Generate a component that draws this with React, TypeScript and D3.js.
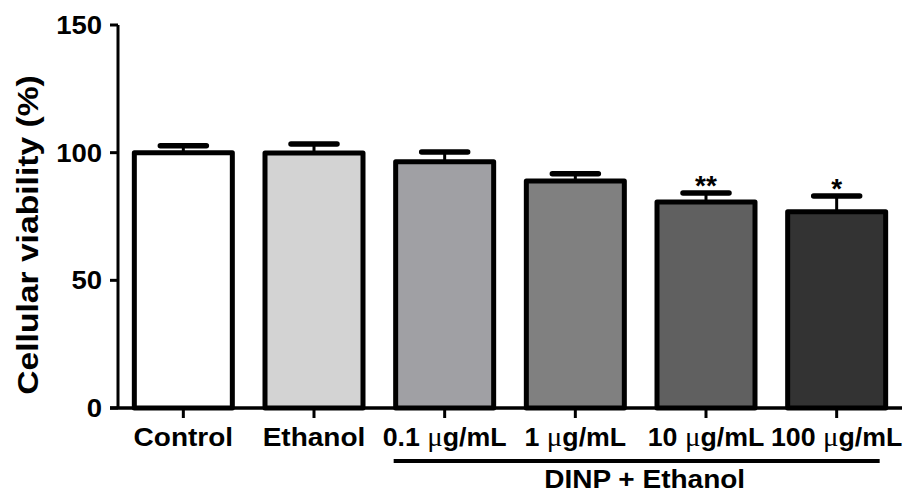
import React from "react";
import * as d3 from "d3";

// DATA
const groups = ["Control", "Ethanol", "0.1", "1", "10", "100"];
const doseLabels = ["Control", "Ethanol", "0.1 ", "1 ", "10 ", "100 "];
const hasUnit = [false, false, true, true, true, true];
const viability = [100, 99.9, 96.4, 88.9, 80.7, 76.9];
const sem = [2.7, 3.5, 3.9, 2.8, 3.5, 6.1];
const stars = ["", "", "", "", "**", "*"];
const fills = ["#ffffff", "#d3d3d3", "#a0a0a4", "#808080", "#606060", "#333333"];
const yTicks = [0, 50, 100, 150];

const W = 917;
const H = 496;
const FONT = "'Liberation Sans', Arial, sans-serif";

export default function App() {
  // SCALES
  const x = d3
    .scaleBand<string>()
    .domain(groups)
    .range([118, 902])
    .paddingInner(0.25)
    .paddingOuter(0.125);
  const y = d3.scaleLinear().domain([0, 150]).range([408, 25]);
  const bw = x.bandwidth();
  const capW = 52;

  const lineStart = (x(groups[2]) as number) - 2;
  const lineEnd = (x(groups[5]) as number) + bw - 6;

  return (
    <div style={{ margin: -8 }}>
      <svg width={W} height={H} style={{ display: "block", background: "#fff" }}>
        {/* BARS */}
        {groups.map((g, i) => {
          const x0 = x(g) as number;
          const cx = x0 + bw / 2;
          const top = y(viability[i] + sem[i]);
          return (
            <g key={g}>
              <line x1={cx} x2={cx} y1={y(viability[i])} y2={top} stroke="#000" strokeWidth={3} />
              <line
                x1={cx - capW / 2 + 3}
                x2={cx + capW / 2 - 3}
                y1={top}
                y2={top}
                stroke="#000"
                strokeWidth={5.5}
                strokeLinecap="round"
              />
              <rect
                x={x0}
                y={y(viability[i])}
                width={bw}
                height={y(0) - y(viability[i])}
                fill={fills[i]}
                stroke="#000"
                strokeWidth={5}
                strokeLinejoin="round"
              />
              {stars[i] && (
                <text
                  x={cx}
                  y={top + 2}
                  textAnchor="middle"
                  fontFamily={FONT}
                  fontWeight="bold"
                  fontSize={28}
                  fill="#000"
                >
                  {stars[i]}
                </text>
              )}
            </g>
          );
        })}

        {/* Y AXIS */}
        <line x1={118} x2={118} y1={y(150)} y2={y(0)} stroke="#000" strokeWidth={3} />
        {yTicks.map((t) => (
          <g key={t}>
            <line x1={110} x2={118} y1={y(t)} y2={y(t)} stroke="#000" strokeWidth={3} />
            <g transform={`translate(102,${y(t)}) scale(1.1,1)`}>
              <text dy="0.36em" textAnchor="end" fontFamily={FONT} fontWeight="bold" fontSize={25} fill="#000">
                {t}
              </text>
            </g>
          </g>
        ))}

        {/* X AXIS */}
        <line x1={110} x2={902} y1={y(0)} y2={y(0)} stroke="#000" strokeWidth={3.5} />
        {groups.map((g, i) => {
          const cx = (x(g) as number) + bw / 2;
          return (
            <g key={g}>
              <line x1={cx} x2={cx} y1={y(0)} y2={y(0) + 10} stroke="#000" strokeWidth={3} />
              <g transform={`translate(${cx},446) scale(${hasUnit[i] ? 1.07 : 1.12},1)`}>
                <text textAnchor="middle" fontFamily={FONT} fontWeight="bold" fontSize={25} fill="#000">
                  {doseLabels[i]}
                  {hasUnit[i] && (
                    <>
                      <tspan fontFamily="'Liberation Serif', 'DejaVu Serif', serif" fontWeight="normal" fontSize={27}>
                        μ
                      </tspan>
                      g/mL
                    </>
                  )}
                </text>
              </g>
            </g>
          );
        })}

        {/* GROUP BRACKET */}
        <line x1={lineStart} x2={lineEnd} y1={461} y2={461} stroke="#000" strokeWidth={4} />
        <g transform={`translate(${(lineStart + lineEnd) / 2 + 8},488) scale(1.12,1)`}>
          <text textAnchor="middle" fontFamily={FONT} fontWeight="bold" fontSize={25} fill="#000">
            DINP + Ethanol
          </text>
        </g>

        {/* Y TITLE */}
        <g transform="translate(38,235) rotate(-90) scale(1.16,1)">
          <text textAnchor="middle" fontFamily={FONT} fontWeight="bold" fontSize={29} fill="#000">
            Cellular viability (%)
          </text>
        </g>
      </svg>
    </div>
  );
}
